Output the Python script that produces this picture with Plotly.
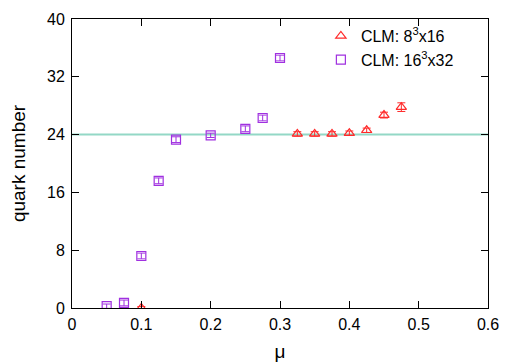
import plotly.graph_objects as go

# Data
mu_small = [0.1, 0.325, 0.35, 0.375, 0.4, 0.425, 0.45, 0.475]
n_small = [0.0, 24.1, 24.1, 24.1, 24.2, 24.6, 26.7, 27.8]
err_small = [0.2, 0.3, 0.3, 0.3, 0.3, 0.3, 0.4, 0.6]

mu_large = [0.05, 0.075, 0.1, 0.125, 0.15, 0.2, 0.25, 0.275, 0.3]
n_large = [0.25, 0.7, 7.2, 17.6, 23.3, 23.9, 24.8, 26.3, 34.6]
err_large = [0.3, 0.4, 0.4, 0.4, 0.4, 0.3, 0.4, 0.4, 0.4]

ref_level = 24.0
x_range = [0, 0.6]
y_range = [0, 40]
x_ticks = [0, 0.1, 0.2, 0.3, 0.4, 0.5, 0.6]
y_ticks = [0, 8, 16, 24, 32, 40]

red = "#ff2a2a"
purple = "#a030e0"
teal = "#93d8c6"

fig = go.Figure()

fig.add_trace(go.Scatter(
    x=x_range, y=[ref_level, ref_level], mode="lines",
    line=dict(color=teal, width=2), showlegend=False, hoverinfo="skip"))

fig.add_trace(go.Scatter(
    x=mu_small, y=n_small, mode="markers",
    name="CLM: 8<sup>3</sup>x16",
    marker=dict(symbol="triangle-up-open", size=9, color=red, line=dict(width=1.2)),
    error_y=dict(type="data", array=err_small, color=red, thickness=1, width=4)))

fig.add_trace(go.Scatter(
    x=mu_large, y=n_large, mode="markers",
    name="CLM: 16<sup>3</sup>x32",
    marker=dict(symbol="square-open", size=9, color=purple, line=dict(width=1.2)),
    error_y=dict(type="data", array=err_large, color=purple, thickness=1, width=4)))

axis_common = dict(
    showgrid=False, zeroline=False, showline=True, mirror="ticks",
    linecolor="black", linewidth=1, ticks="inside", ticklen=7,
    tickcolor="black", tickfont=dict(size=16, color="black"), automargin=False)

fig.update_layout(
    width=510, height=354,
    margin=dict(l=64, r=30, t=11, b=54),
    plot_bgcolor="white", paper_bgcolor="white",
    font=dict(family="Liberation Sans, Arial, sans-serif", size=16, color="black"),
    xaxis=dict(range=x_range, tickvals=x_ticks, ticktext=[f"{v:g}" for v in x_ticks],
               ticklabelstandoff=2,
               title=dict(text="μ", standoff=12), **axis_common),
    yaxis=dict(range=y_range, tickvals=y_ticks, ticklabelstandoff=3,
               title=dict(text="quark number", standoff=30),
               **axis_common),
    legend=dict(x=0.93, y=1.0, xanchor="right", yanchor="top",
                bgcolor="rgba(0,0,0,0)", font=dict(size=16), tracegroupgap=0),
)

fig.write_html("out.html")
